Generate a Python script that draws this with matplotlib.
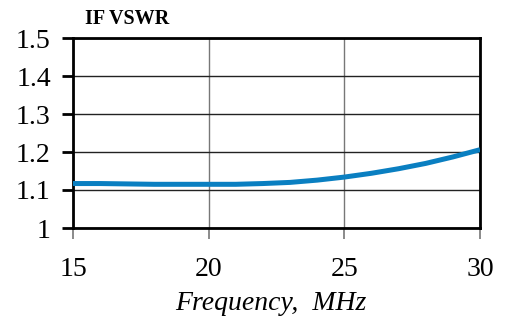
import matplotlib
matplotlib.use("Agg")
import matplotlib.pyplot as plt

freq = [15, 16, 17, 18, 19, 20, 21, 22, 23, 24, 25, 26, 27, 28, 29, 30]
vswr = [1.117, 1.117, 1.116, 1.115, 1.115, 1.115, 1.115, 1.117, 1.120, 1.126,
        1.134, 1.144, 1.156, 1.170, 1.187, 1.206]
xticks = [15, 20, 25, 30]
yticks = [1.0, 1.1, 1.2, 1.3, 1.4, 1.5]
ytick_labels = ["1", "1.1", "1.2", "1.3", "1.4", "1.5"]

plt.rcParams['font.family'] = ['Liberation Serif', 'DejaVu Serif']

fig = plt.figure(figsize=(5.07, 3.17), dpi=100)
ax = fig.add_axes([73/507, 1 - 228/317, (480-73)/507, (228-38)/317])

ax.plot(freq, vswr, color='#0a7fc1', lw=3.6, solid_capstyle='butt', zorder=3)
ax.set_xlim(15, 30)
ax.set_ylim(1.0, 1.5)
ax.set_xticks(xticks)
ax.set_yticks(yticks)
ax.set_yticklabels(ytick_labels)
ax.grid(True, axis='y', color='#222222', lw=1.0)
ax.grid(True, axis='x', color='#777777', lw=1.0)
ax.set_axisbelow(True)
for s in ax.spines.values():
    s.set_linewidth(2.0)
    s.set_color('black')
ax.tick_params(axis='y', direction='out', length=8, width=2, labelsize=20, pad=8, colors='black')
ax.tick_params(axis='x', direction='out', length=8, width=1.2, color='#777777', labelsize=20, pad=13, labelcolor='black')
ax.set_xlabel('Frequency,  MHz', fontsize=20, fontstyle='italic')
ax.xaxis.set_label_coords(0.487, -0.33)
fig.text(85/507, 1 - 19/317, 'IF VSWR', fontsize=14.5, fontweight='bold', va='center', ha='left')

fig.savefig('out.png', dpi=100)
